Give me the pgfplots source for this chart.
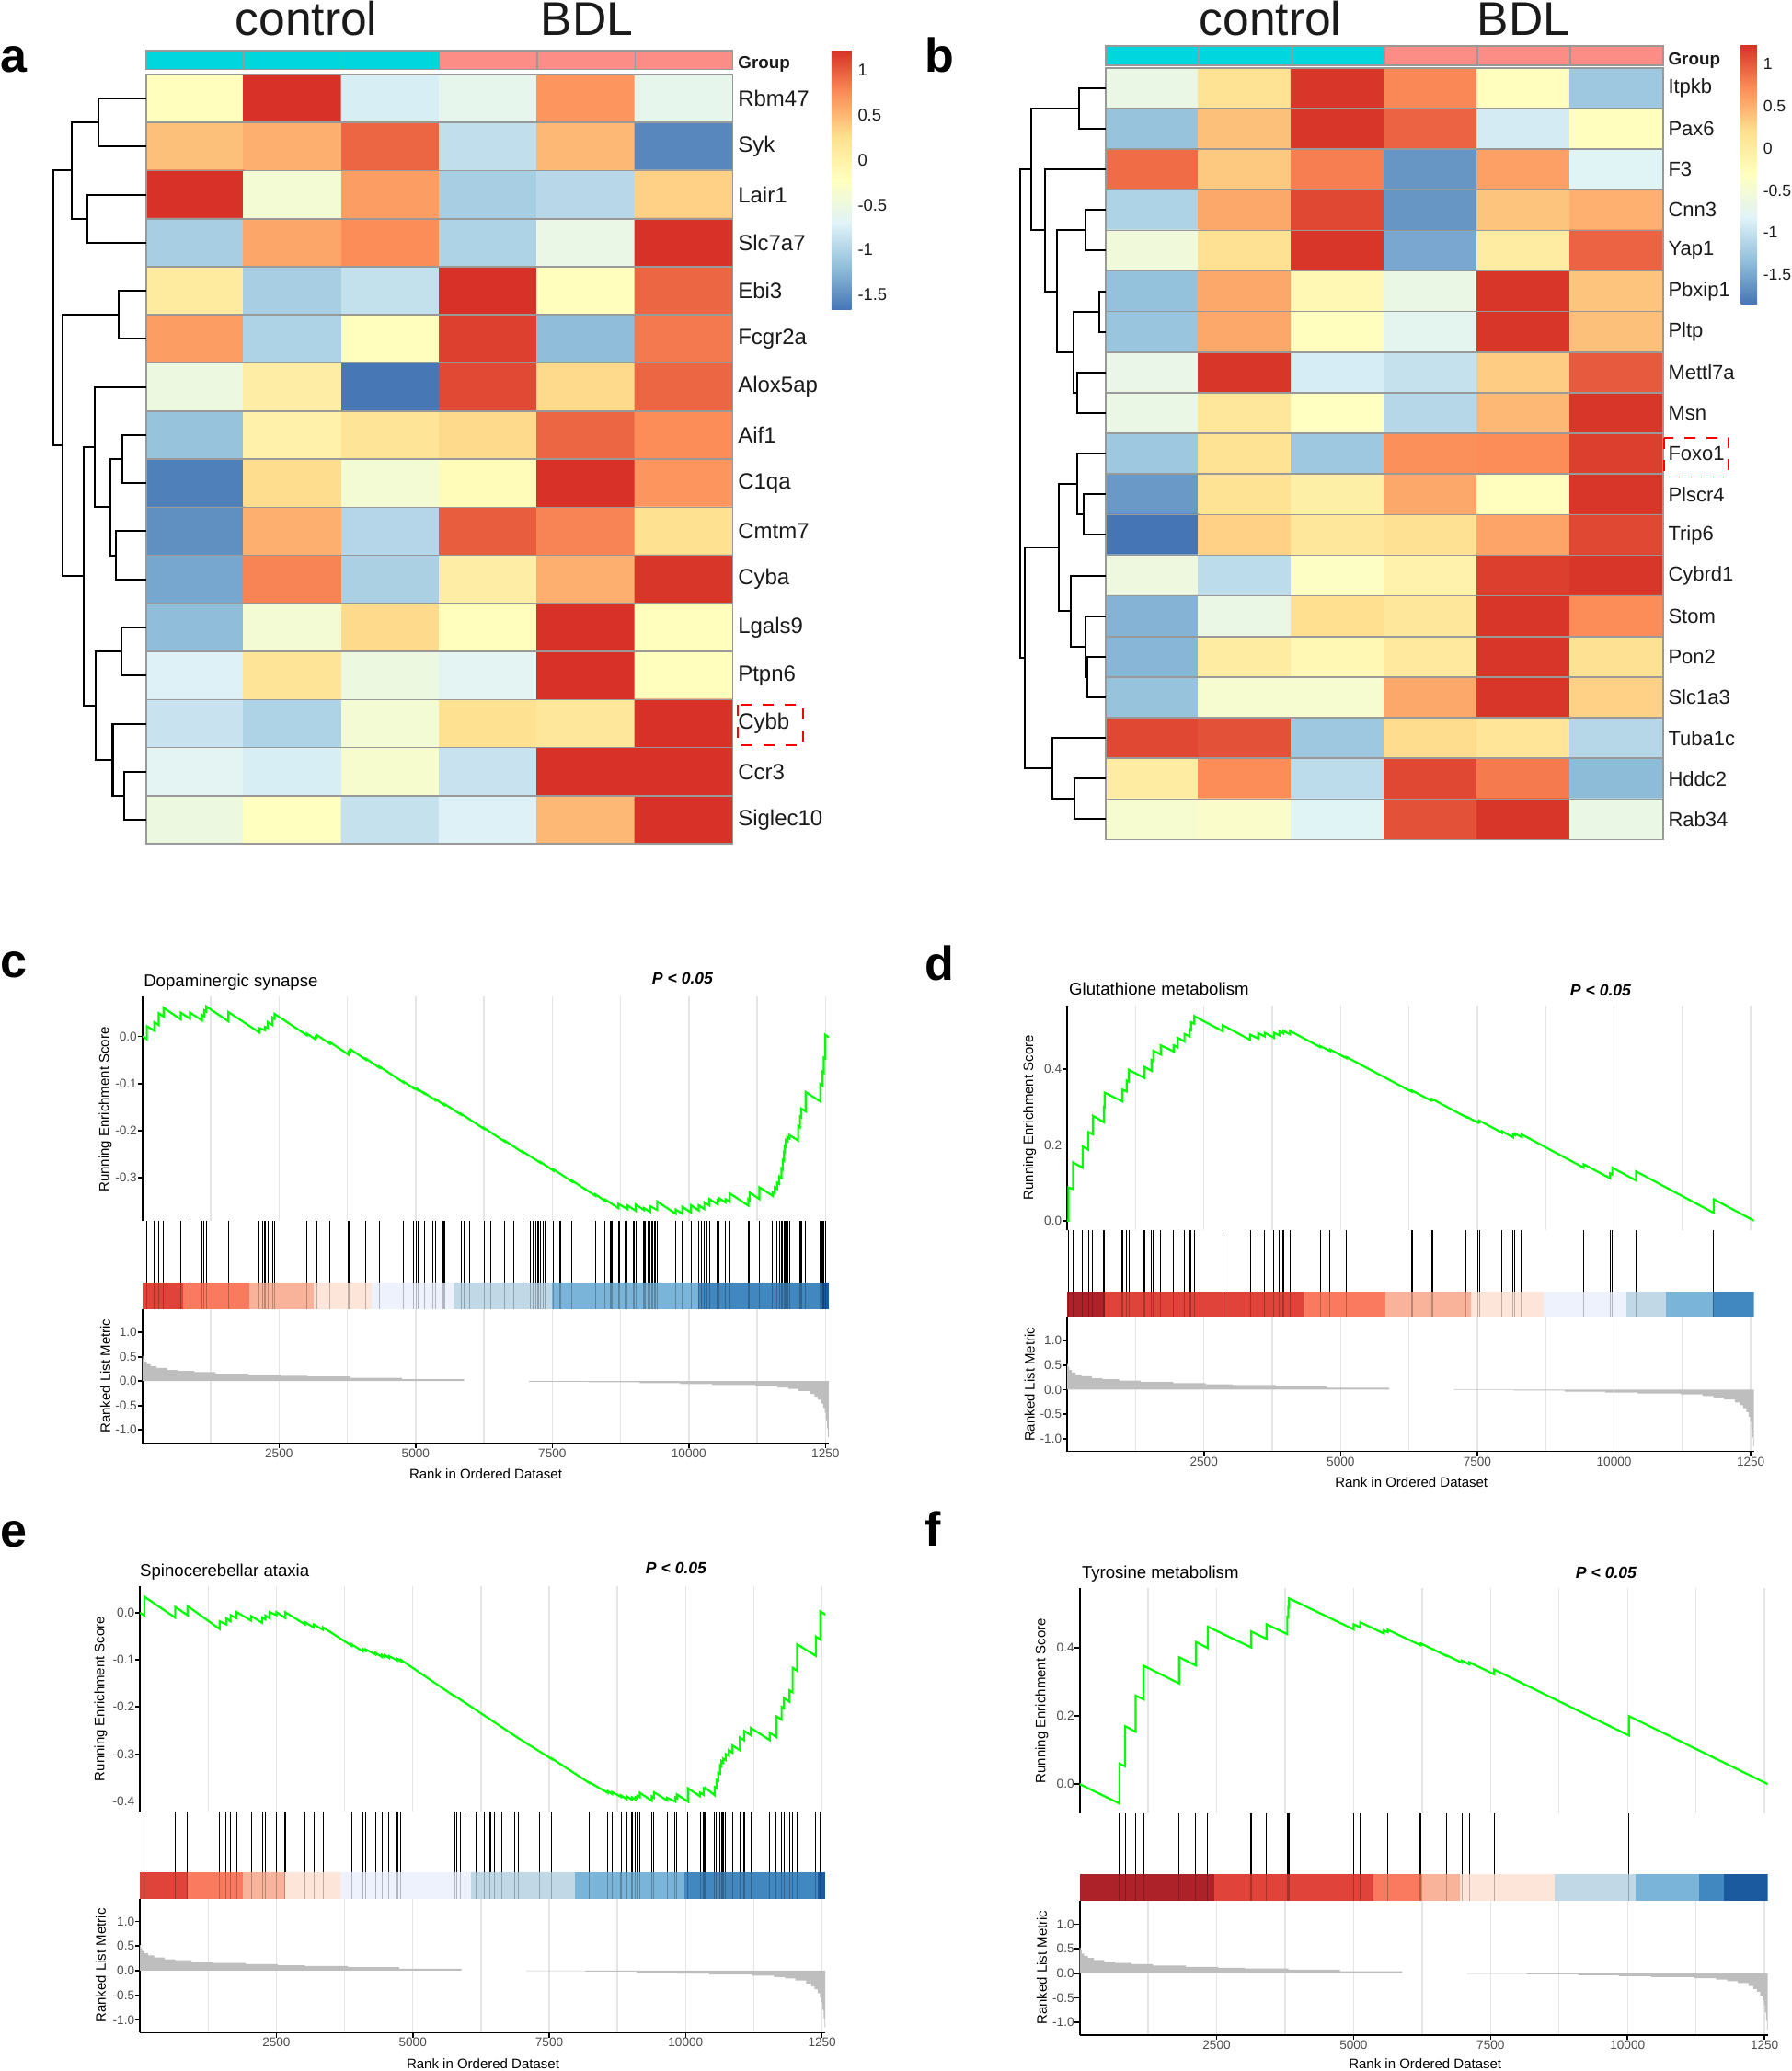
\documentclass[border=0pt]{standalone}
\usepackage{fontspec}
\setmainfont{Liberation Sans}
\usepackage{pgfplots}
\usepackage{pgfplotstable}
\pgfplotsset{compat=1.18}

\definecolor{gridcol}{RGB}{229,229,229}
\definecolor{tickcol}{RGB}{77,77,77}
\definecolor{esgreen}{RGB}{0,255,0}
\definecolor{rankgray}{RGB}{190,190,190}
\definecolor{hmborder}{RGB}{153,153,153}
\definecolor{ctrl}{RGB}{0,214,222}
\definecolor{bdl}{RGB}{252,141,134}
\definecolor{textcol}{RGB}{26,26,26}
\definecolor{cbA}{RGB}{173,34,41}
\definecolor{cbB}{RGB}{224,67,58}
\definecolor{cbC}{RGB}{249,122,94}
\definecolor{cbD}{RGB}{249,179,154}
\definecolor{cbE}{RGB}{253,229,218}
\definecolor{cbF}{RGB}{238,242,253}
\definecolor{cbG}{RGB}{193,217,231}
\definecolor{cbH}{RGB}{122,180,217}
\definecolor{cbI}{RGB}{66,136,192}
\definecolor{cbJ}{RGB}{28,90,160}

\newcommand{\fTick}{\fontsize{3.4}{4}\selectfont}
\newcommand{\fLab}{\fontsize{3.75}{4.5}\selectfont}
\newcommand{\fTitle}{\fontsize{4.65}{5.5}\selectfont}
\newcommand{\fP}{\fontsize{4.4}{5}\selectfont\bfseries\itshape}
\newcommand{\fBig}{\fontsize{12.9}{14}\selectfont}
\newcommand{\fLetter}{\fontsize{13}{14}\selectfont\bfseries}
\newcommand{\fGeneA}{\fontsize{6}{7}\selectfont}
\newcommand{\fGeneB}{\fontsize{5.5}{6.5}\selectfont}
\newcommand{\fCBA}{\fontsize{4.6}{5}\selectfont}
\newcommand{\fCBB}{\fontsize{4.4}{5}\selectfont}
\newcommand{\fGroup}{\fontsize{4.7}{5}\selectfont\bfseries}

\pgfplotsset{
  every axis/.append style={scale only axis, enlargelimits=false},
  colormap={rdylbu}{rgb255=(69,117,180) rgb255=(145,191,219) rgb255=(224,243,248) rgb255=(255,255,191) rgb255=(254,224,144) rgb255=(252,141,89) rgb255=(215,48,39)},
  hm/.style={anchor=north west, xmin=0, xmax=6, y dir=reverse, axis on top,
    axis line style={hmborder, line width=0.4pt}, xtick=\empty,
    minor xtick={1,2,3,4,5}, grid=minor, minor grid style={hmborder, line width=0.4pt},
    major tick length=0pt, minor tick length=0pt, yticklabel pos=right,
    yticklabel style={anchor=west, inner sep=0pt, xshift=1.2pt, text=textcol},
    colormap name=rdylbu},
  gb/.style={anchor=north west, xmin=0, xmax=6, ymin=0, ymax=1, hide axis, clip=false},
  gcell/.style={draw=hmborder, line width=0.4pt},
  dendax/.style={anchor=north west, xmin=0, x dir=reverse, y dir=reverse, hide axis, clip=false},
  dend/.style={black, line width=0.5pt, no marks},
  esline/.style={esgreen, line width=0.55pt, no marks},
  hitline/.style={ycomb, black, line width=0.27pt, no marks},
  rankfill/.style={fill=rankgray, draw=none, const plot, no marks},
  gbase/.style={anchor=north west, xmin=0, xmax=12560, scaled x ticks=false, scaled y ticks=false},
  gES/.style={gbase, axis lines*=left, separate axis lines,
    x axis line style={draw=none}, y axis line style={black, line width=0.45pt},
    xtick={1250,2500,3750,5000,6250,7500,8750,10000,11250,12500}, xticklabels={},
    xmajorgrids, major grid style={gridcol, line width=0.35pt},
    tick align=outside, major tick length=1.3pt, xtick style={draw=none},
    ytick style={black, line width=0.4pt},
    yticklabel style={font=\fTick, text=tickcol, inner sep=0pt, anchor=east}},
  gHit/.style={gbase, ymin=0, ymax=1, hide axis},
  gRank/.style={gbase, axis lines*=left, separate axis lines,
    x axis line style={black, line width=0.45pt}, y axis line style={black, line width=0.45pt},
    xtick={2500,5000,7500,10000,12500}, xticklabels={2500,5000,7500,10000,1250},
    minor xtick={1250,3750,6250,8750,11250}, xmajorgrids, xminorgrids,
    major grid style={gridcol, line width=0.35pt}, minor grid style={gridcol, line width=0.35pt},
    tick align=outside, major tick length=1.3pt, minor tick length=0pt,
    tick style={black, line width=0.4pt},
    ytick={-1,-0.5,0,0.5,1}, yticklabels={-1.0,-0.5,0.0,0.5,1.0},
    yticklabel style={font=\fTick, text=tickcol, inner sep=0pt, anchor=east},
    xticklabel style={font=\fTick, text=tickcol, inner sep=0pt, anchor=north}},
}

% ---------- GSEA data ----------
\pgfplotstableread{
x y
1 0.52
15 0.46
40 0.40
80 0.35
150 0.31
260 0.27
450 0.23
650 0.21
950 0.185
1340 0.155
1940 0.13
2530 0.11
3020 0.095
3810 0.07
4750 0.04
5890 0.04
}\rankpos
\pgfplotstableread{
x y
7075 -0.01
8160 -0.02
9100 -0.04
9840 -0.06
10430 -0.08
11220 -0.10
11620 -0.13
11820 -0.16
12010 -0.20
12210 -0.26
12300 -0.32
12360 -0.38
12420 -0.46
12460 -0.55
12490 -0.65
12510 -0.80
12530 -0.97
12545 -1.15
12560 -1.15
}\rankneg

\pgfplotstableread[row sep=\\]{x y\\81 1\\218 1\\298 1\\387 1\\702 1\\871 1\\1089 1\\1129 1\\1169 1\\1573 1\\2137 1\\2202 1\\2242 1\\2298 1\\2379 1\\2419 1\\3008 1\\3170 1\\3186 1\\3428 1\\3774 1\\3790 1\\3807 1\\4089 1\\4339 1\\4782 1\\4960 1\\5016 1\\5040 1\\5162 1\\5307 1\\5363 1\\5508 1\\5524 1\\5540 1\\5831 1\\5887 1\\5984 1\\6250 1\\6371 1\\6629 1\\6799 1\\6960 1\\7097 1\\7154 1\\7202 1\\7242 1\\7282 1\\7339 1\\7363 1\\7524 1\\7637 1\\7661 1\\7863 1\\8290 1\\8468 1\\8565 1\\8589 1\\8710 1\\8734 1\\8831 1\\8871 1\\8992 1\\9008 1\\9032 1\\9178 1\\9210 1\\9258 1\\9274 1\\9291 1\\9315 1\\9339 1\\9371 1\\9395 1\\9420 1\\9758 1\\9879 1\\10040 1\\10178 1\\10226 1\\10283 1\\10323 1\\10379 1\\10524 1\\10549 1\\10670 1\\10750 1\\11089 1\\11113 1\\11291 1\\11533 1\\11573 1\\11613 1\\11654 1\\11694 1\\11718 1\\11742 1\\11758 1\\11775 1\\11799 1\\11815 1\\11839 1\\12000 1\\12033 1\\12057 1\\12138 1\\12404 1\\12444 1\\12468 1\\12500 1\\}\hitc

\pgfplotstableread[row sep=\\]{x y\\25 1\\105 1\\282 1\\387 1\\468 1\\669 1\\685 1\\1008 1\\1089 1\\1129 1\\1411 1\\1540 1\\1573 1\\1710 1\\1944 1\\2016 1\\2145 1\\2242 1\\2266 1\\2323 1\\2847 1\\3347 1\\3492 1\\3613 1\\3782 1\\3879 1\\3952 1\\4073 1\\4629 1\\4807 1\\5105 1\\6291 1\\6315 1\\6638 1\\6662 1\\6678 1\\7298 1\\7508 1\\7540 1\\7952 1\\8154 1\\8186 1\\8307 1\\9444 1\\9928 1\\9968 1\\10404 1\\11823 1\\}\hitd

\pgfplotstableread[row sep=\\]{x y\\81 1\\645 1\\871 1\\1460 1\\1581 1\\1661 1\\1774 1\\2040 1\\2242 1\\2298 1\\2379 1\\2500 1\\2661 1\\3024 1\\3186 1\\3355 1\\3879 1\\4081 1\\4137 1\\4315 1\\4436 1\\4484 1\\4565 1\\4718 1\\4782 1\\5766 1\\5807 1\\5871 1\\5952 1\\6154 1\\6315 1\\6420 1\\6500 1\\6637 1\\6863 1\\6936 1\\7323 1\\7548 1\\8234 1\\8573 1\\8654 1\\8815 1\\8920 1\\9016 1\\9081 1\\9113 1\\9161 1\\9379 1\\9419 1\\9662 1\\9807 1\\9839 1\\10040 1\\10266 1\\10331 1\\10363 1\\10533 1\\10565 1\\10597 1\\10630 1\\10654 1\\10686 1\\10734 1\\10790 1\\10855 1\\10992 1\\11073 1\\11194 1\\11541 1\\11662 1\\11758 1\\11799 1\\11904 1\\11960 1\\12041 1\\12387 1\\12468 1\\}\hite

\pgfplotstableread[row sep=\\]{x y\\726 1\\831 1\\1024 1\\1169 1\\1815 1\\2121 1\\2339 1\\3129 1\\3411 1\\3790 1\\3807 1\\3823 1\\5000 1\\5121 1\\5548 1\\5621 1\\6210 1\\6234 1\\6694 1\\6976 1\\7113 1\\7565 1\\10024 1\\}\hitf

\pgfplotstableread[row sep=\\]{x y\\1 0\\81 -0.006\\81 0.0216\\218 0.0118\\218 0.030\\298 0.024\\298 0.049\\387 0.042\\387 0.0608\\702 0.036\\702 0.0503\\871 0.0373\\871 0.0503\\1089 0.034\\1089 0.0458\\1129 0.0428\\1129 0.0556\\1169 0.0526\\1169 0.0634\\1573 0.032\\1573 0.0516\\2137 0.0085\\2137 0.0176\\2242 0.0131\\2242 0.020\\2298 0.0176\\2298 0.030\\2379 0.024\\2379 0.040\\2419 0.037\\2419 0.0477\\3008 0.0025\\3008 0.006\\3170 -0.0065\\3170 -0.001\\3186 -0.002\\3186 0.0033\\3428 -0.0154\\3428 -0.012\\3774 -0.0389\\3774 -0.033\\3790 -0.034\\3790 -0.030\\3807 -0.031\\3807 -0.0275\\4089 -0.0495\\4089 -0.047\\4339 -0.0665\\4339 -0.064\\4782 -0.098\\4782 -0.096\\4960 -0.110\\4960 -0.108\\5040 -0.114\\5040 -0.112\\5162 -0.1215\\5162 -0.120\\5363 -0.1355\\5363 -0.133\\5524 -0.1455\\5524 -0.143\\5831 -0.166\\5831 -0.164\\6250 -0.196\\6250 -0.194\\6629 -0.223\\6629 -0.221\\6960 -0.246\\6960 -0.244\\7282 -0.268\\7282 -0.266\\7524 -0.285\\7524 -0.282\\7863 -0.308\\7863 -0.306\\8290 -0.338\\8290 -0.335\\8468 -0.349\\8468 -0.346\\8710 -0.364\\8710 -0.355\\8871 -0.366\\8871 -0.358\\9032 -0.370\\9032 -0.357\\9178 -0.368\\9178 -0.364\\9291 -0.372\\9291 -0.360\\9420 -0.368\\9420 -0.350\\9758 -0.376\\9758 -0.367\\9879 -0.376\\9879 -0.361\\10040 -0.3735\\10040 -0.358\\10178 -0.369\\10178 -0.358\\10283 -0.366\\10283 -0.352\\10379 -0.359\\10379 -0.345\\10524 -0.356\\10524 -0.347\\10549 -0.349\\10549 -0.343\\10670 -0.352\\10670 -0.345\\10750 -0.351\\10750 -0.333\\11089 -0.359\\11089 -0.345\\11113 -0.347\\11113 -0.331\\11291 -0.345\\11291 -0.320\\11533 -0.338\\11533 -0.330\\11573 -0.333\\11573 -0.320\\11613 -0.323\\11613 -0.310\\11654 -0.313\\11654 -0.297\\11694 -0.300\\11694 -0.280\\11718 -0.282\\11718 -0.262\\11742 -0.264\\11742 -0.245\\11758 -0.246\\11758 -0.232\\11775 -0.233\\11775 -0.220\\11799 -0.222\\11799 -0.213\\11839 -0.216\\11839 -0.209\\12000 -0.221\\12000 -0.190\\12033 -0.193\\12033 -0.170\\12057 -0.172\\12057 -0.153\\12138 -0.159\\12138 -0.118\\12404 -0.138\\12404 -0.101\\12444 -0.104\\12444 -0.075\\12468 -0.077\\12468 -0.045\\12500 -0.047\\12500 0.003\\12560 -0.002\\}\esc

\pgfplotstableread[row sep=\\]{x y\\1 0\\25 0\\25 0.0876\\105 0.0836\\105 0.154\\282 0.140\\282 0.196\\387 0.187\\387 0.234\\468 0.228\\468 0.277\\669 0.260\\669 0.300\\685 0.299\\685 0.338\\1008 0.315\\1008 0.346\\1089 0.341\\1089 0.370\\1129 0.367\\1129 0.398\\1411 0.377\\1411 0.406\\1540 0.396\\1540 0.424\\1573 0.421\\1573 0.449\\1710 0.439\\1710 0.463\\1944 0.447\\1944 0.463\\2016 0.458\\2016 0.483\\2145 0.473\\2145 0.493\\2242 0.486\\2242 0.505\\2266 0.503\\2266 0.524\\2323 0.520\\2323 0.540\\2847 0.500\\2847 0.516\\3347 0.477\\3347 0.491\\3492 0.481\\3492 0.495\\3613 0.486\\3613 0.496\\3782 0.483\\3782 0.496\\3879 0.489\\3879 0.500\\3952 0.494\\3952 0.501\\4073 0.492\\4073 0.501\\4629 0.458\\4629 0.461\\4807 0.448\\4807 0.452\\5105 0.429\\5105 0.432\\6291 0.341\\6291 0.343\\6315 0.341\\6315 0.343\\6638 0.318\\6638 0.320\\6662 0.318\\6662 0.320\\6678 0.319\\6678 0.321\\7298 0.273\\7298 0.275\\7508 0.259\\7508 0.262\\7540 0.260\\7540 0.264\\7952 0.232\\7952 0.236\\8154 0.220\\8154 0.228\\8186 0.226\\8186 0.230\\8307 0.221\\8307 0.228\\9444 0.140\\9444 0.149\\9928 0.112\\9928 0.125\\9968 0.122\\9968 0.140\\10404 0.106\\10404 0.130\\11823 0.0207\\11823 0.0568\\12560 0.0\\}\esd

\pgfplotstableread[row sep=\\]{x y\\1 0\\81 -0.0065\\81 0.034\\645 -0.0104\\645 0.0124\\871 -0.0052\\871 0.0143\\1460 -0.0345\\1460 -0.0182\\1581 -0.0247\\1581 -0.0117\\1661 -0.0182\\1661 -0.0052\\1774 -0.012\\1774 0.0013\\2040 -0.0169\\2040 -0.0072\\2242 -0.0215\\2242 -0.0104\\2298 -0.014\\2298 -0.006\\2379 -0.012\\2379 0.0013\\2500 -0.0052\\2500 0.0013\\2661 -0.011\\2661 0.0013\\3024 -0.0247\\3024 -0.020\\3186 -0.0312\\3186 -0.025\\3355 -0.0364\\3355 -0.031\\3879 -0.0702\\3879 -0.067\\4081 -0.082\\4081 -0.077\\4137 -0.081\\4137 -0.078\\4315 -0.0885\\4315 -0.085\\4436 -0.094\\4436 -0.090\\4484 -0.094\\4484 -0.090\\4565 -0.096\\4565 -0.092\\4718 -0.1015\\4718 -0.098\\4782 -0.103\\4782 -0.100\\5766 -0.1776\\5766 -0.1765\\5952 -0.1906\\6920 -0.2654\\7548 -0.3109\\7548 -0.3095\\8234 -0.3615\\8234 -0.360\\8573 -0.3824\\8573 -0.379\\8654 -0.385\\8654 -0.381\\8815 -0.391\\8815 -0.388\\8920 -0.396\\8920 -0.390\\9016 -0.397\\9016 -0.392\\9081 -0.397\\9081 -0.392\\9113 -0.394\\9113 -0.389\\9161 -0.392\\9161 -0.3824\\9379 -0.3994\\9379 -0.390\\9419 -0.393\\9419 -0.3811\\9662 -0.3987\\9662 -0.393\\9807 -0.401\\9807 -0.392\\9839 -0.394\\9839 -0.3857\\10040 -0.401\\10040 -0.3727\\10266 -0.390\\10266 -0.382\\10331 -0.387\\10331 -0.3727\\10363 -0.375\\10363 -0.372\\10533 -0.3876\\10533 -0.370\\10565 -0.372\\10565 -0.355\\10597 -0.357\\10597 -0.340\\10630 -0.342\\10630 -0.3239\\10654 -0.326\\10654 -0.315\\10686 -0.318\\10686 -0.3096\\10734 -0.313\\10734 -0.300\\10790 -0.304\\10790 -0.292\\10855 -0.297\\10855 -0.2816\\10992 -0.292\\10992 -0.265\\11073 -0.271\\11073 -0.2511\\11194 -0.260\\11194 -0.2446\\11541 -0.2706\\11541 -0.255\\11662 -0.264\\11662 -0.220\\11758 -0.227\\11758 -0.200\\11799 -0.203\\11799 -0.181\\11904 -0.189\\11904 -0.165\\11960 -0.169\\11960 -0.117\\12041 -0.123\\12041 -0.067\\12387 -0.0917\\12387 -0.0507\\12468 -0.057\\12468 0.003\\12560 -0.004\\}\ese

\pgfplotstableread[row sep=\\]{x y\\1 0\\726 -0.057\\726 0.0605\\831 0.052\\831 0.170\\1024 0.154\\1024 0.260\\1169 0.249\\1169 0.348\\1815 0.296\\1815 0.373\\2121 0.349\\2121 0.418\\2339 0.400\\2339 0.463\\3129 0.402\\3129 0.449\\3411 0.427\\3411 0.470\\3790 0.441\\3790 0.492\\3807 0.491\\3807 0.520\\3823 0.519\\3823 0.546\\5000 0.455\\5000 0.470\\5121 0.461\\5121 0.476\\5548 0.443\\5548 0.452\\5621 0.447\\5621 0.454\\6210 0.409\\6210 0.412\\6234 0.410\\6234 0.413\\6694 0.377\\6694 0.379\\6976 0.357\\6976 0.363\\7113 0.352\\7113 0.358\\7565 0.323\\7565 0.337\\10024 0.143\\10024 0.200\\12560 0.0\\}\esf

\begin{document}
\begin{tikzpicture}
\useasboundingbox (0pt,0pt) rectangle (487pt,-562.75pt);

% ================= panel a =================
\begin{axis}[hm, at={(39.675pt,-20.225pt)}, width=159.5pt, height=209.075pt, ymin=0, ymax=16,
  minor ytick={1,2,3,4,5,6,7,8,9,10,11,12,13,14,15},
  ytick={0.5,1.5,2.5,3.5,4.5,5.5,6.5,7.5,8.5,9.5,10.5,11.5,12.5,13.5,14.5,15.5},
  yticklabels={Rbm47,Syk,Lair1,Slc7a7,Ebi3,Fcgr2a,Alox5ap,Aif1,C1qa,Cmtm7,Cyba,Lgals9,Ptpn6,Cybb,Ccr3,Siglec10},
  yticklabel style={font=\fGeneA},
  point meta min=-1.67, point meta max=1.23,
  colorbar, colorbar style={at={(parent axis.north east)}, anchor=north west,
    xshift=18.29pt, yshift=6.73pt, width=5.38pt, height=70.75pt, y dir=normal,
    ytick={-1.5,-1,-0.5,0,0.5,1}, yticklabels={-1.5,-1,-0.5,0,0.5,1},
    yticklabel style={font=\fCBA, text=textcol, inner sep=0pt, anchor=west, xshift=1.55pt},
    major tick length=0pt, axis line style={draw=none}}]
\addplot [matrix plot*, mesh/cols=6, point meta=explicit] table [row sep=\\, meta=c] {x y c\\
0.5 0.5 -0.2\\1.5 0.5 1.22\\2.5 0.5 -0.75\\3.5 0.5 -0.6\\4.5 0.5 0.7\\5.5 0.5 -0.6\\
0.5 1.5 0.45\\1.5 1.5 0.55\\2.5 1.5 0.95\\3.5 1.5 -0.9\\4.5 1.5 0.5\\5.5 1.5 -1.55\\
0.5 2.5 1.22\\1.5 2.5 -0.4\\2.5 2.5 0.65\\3.5 2.5 -1.05\\4.5 2.5 -0.95\\5.5 2.5 0.35\\
0.5 3.5 -1.05\\1.5 3.5 0.6\\2.5 3.5 0.75\\3.5 3.5 -1.0\\4.5 3.5 -0.55\\5.5 3.5 1.22\\
0.5 4.5 0.1\\1.5 4.5 -1.05\\2.5 4.5 -0.88\\3.5 4.5 1.22\\4.5 4.5 -0.2\\5.5 4.5 0.95\\
0.5 5.5 0.65\\1.5 5.5 -1.0\\2.5 5.5 -0.2\\3.5 5.5 1.15\\4.5 5.5 -1.2\\5.5 5.5 0.85\\
0.5 6.5 -0.5\\1.5 6.5 0.05\\2.5 6.5 -1.66\\3.5 6.5 1.1\\4.5 6.5 0.3\\5.5 6.5 0.95\\
0.5 7.5 -1.15\\1.5 7.5 0.0\\2.5 7.5 0.2\\3.5 7.5 0.3\\4.5 7.5 0.95\\5.5 7.5 0.75\\
0.5 8.5 -1.6\\1.5 8.5 0.28\\2.5 8.5 -0.4\\3.5 8.5 -0.15\\4.5 8.5 1.22\\5.5 8.5 0.7\\
0.5 9.5 -1.5\\1.5 9.5 0.55\\2.5 9.5 -0.97\\3.5 9.5 1.0\\4.5 9.5 0.8\\5.5 9.5 0.25\\
0.5 10.5 -1.35\\1.5 10.5 0.8\\2.5 10.5 -1.03\\3.5 10.5 0.05\\4.5 10.5 0.55\\5.5 10.5 1.2\\
0.5 11.5 -1.2\\1.5 11.5 -0.4\\2.5 11.5 0.3\\3.5 11.5 -0.2\\4.5 11.5 1.22\\5.5 11.5 -0.2\\
0.5 12.5 -0.72\\1.5 12.5 0.2\\2.5 12.5 -0.5\\3.5 12.5 -0.65\\4.5 12.5 1.22\\5.5 12.5 -0.2\\
0.5 13.5 -0.85\\1.5 13.5 -1.0\\2.5 13.5 -0.4\\3.5 13.5 0.25\\4.5 13.5 0.15\\5.5 13.5 1.22\\
0.5 14.5 -0.65\\1.5 14.5 -0.75\\2.5 14.5 -0.35\\3.5 14.5 -0.85\\4.5 14.5 1.22\\5.5 14.5 1.22\\
0.5 15.5 -0.5\\1.5 15.5 -0.22\\2.5 15.5 -0.87\\3.5 15.5 -0.72\\4.5 15.5 0.5\\5.5 15.5 1.22\\
};
\end{axis}

\begin{axis}[gb, at={(39.675pt,-13.725pt)}, width=159.5pt, height=5.175pt]
\addplot [fill=ctrl, gcell] coordinates {(0,1) (1,1)} \closedcycle;
\addplot [fill=ctrl, gcell] coordinates {(1,1) (2,1)} \closedcycle;
\addplot [fill=ctrl, gcell] coordinates {(2,1) (3,1)} \closedcycle;
\addplot [fill=bdl, gcell] coordinates {(3,1) (4,1)} \closedcycle;
\addplot [fill=bdl, gcell] coordinates {(4,1) (5,1)} \closedcycle;
\addplot [fill=bdl, gcell] coordinates {(5,1) (6,1)} \closedcycle;
\end{axis}

\begin{axis}[dendax, at={(10pt,-20.225pt)}, width=29.675pt, height=209.075pt, xmax=118.7, ymin=0, ymax=16]
\addplot [dend] coordinates {(0,0.5)(51.9,0.5)(51.9,1.5)(0,1.5)};
\addplot [dend] coordinates {(0,2.5)(63.6,2.5)(63.6,3.5)(0,3.5)};
\addplot [dend] coordinates {(51.9,1.0)(80.3,1.0)(80.3,3.0)(63.6,3.0)};
\addplot [dend] coordinates {(0,4.5)(30.2,4.5)(30.2,5.5)(0,5.5)};
\addplot [dend] coordinates {(0,7.5)(25.8,7.5)(25.8,8.5)(0,8.5)};
\addplot [dend] coordinates {(0,9.5)(32.9,9.5)(32.9,10.5)(0,10.5)};
\addplot [dend] coordinates {(25.8,8.0)(38.5,8.0)(38.5,10.0)(32.9,10.0)};
\addplot [dend] coordinates {(0,6.5)(55.2,6.5)(55.2,9.0)(38.5,9.0)};
\addplot [dend] coordinates {(0,11.5)(26.8,11.5)(26.8,12.5)(0,12.5)};
\addplot [dend] coordinates {(0,14.5)(24.2,14.5)(24.2,15.5)(0,15.5)};
\addplot [dend] coordinates {(0,13.5)(36.2,13.5)(36.2,15.0)(24.2,15.0)};
\addplot [dend] coordinates {(26.8,12.0)(54.6,12.0)(54.6,14.25)(36.2,14.25)};
\addplot [dend] coordinates {(55.2,7.75)(67.6,7.75)(67.6,13.125)(54.6,13.125)};
\addplot [dend] coordinates {(30.2,5.0)(91.0,5.0)(91.0,10.4375)(67.6,10.4375)};
\addplot [dend] coordinates {(80.3,2.0)(101.0,2.0)(101.0,7.71875)(91.0,7.71875)};
\end{axis}

% ================= panel b =================
\begin{axis}[hm, at={(300.425pt,-18.45pt)}, width=151.55pt, height=209.675pt, ymin=0, ymax=19,
  minor ytick={1,2,3,4,5,6,7,8,9,10,11,12,13,14,15,16,17,18},
  ytick={0.5,1.5,2.5,3.5,4.5,5.5,6.5,7.5,8.5,9.5,10.5,11.5,12.5,13.5,14.5,15.5,16.5,17.5,18.5},
  yticklabels={Itpkb,Pax6,F3,Cnn3,Yap1,Pbxip1,Pltp,Mettl7a,Msn,Foxo1,Plscr4,Trip6,Cybrd1,Stom,Pon2,Slc1a3,Tuba1c,Hddc2,Rab34},
  yticklabel style={font=\fGeneB},
  point meta min=-1.85, point meta max=1.23,
  colorbar, colorbar style={at={(parent axis.north east)}, anchor=north west,
    xshift=12.66pt, yshift=6.35pt, width=4.33pt, height=70.58pt, y dir=normal,
    ytick={-1.5,-1,-0.5,0,0.5,1}, yticklabels={-1.5,-1,-0.5,0,0.5,1},
    yticklabel style={font=\fCBB, text=textcol, inner sep=0pt, anchor=west, xshift=1.5pt},
    major tick length=0pt, axis line style={draw=none}}]
\addplot [matrix plot*, mesh/cols=6, point meta=explicit] table [row sep=\\, meta=c] {x y c\\
0.5 0.5 -0.65\\1.5 0.5 0.15\\2.5 0.5 1.2\\3.5 0.5 0.75\\4.5 0.5 -0.3\\5.5 0.5 -1.25\\
0.5 1.5 -1.3\\1.5 1.5 0.4\\2.5 1.5 1.2\\3.5 1.5 0.95\\4.5 1.5 -0.9\\5.5 1.5 -0.3\\
0.5 2.5 0.9\\1.5 2.5 0.35\\2.5 2.5 0.8\\3.5 2.5 -1.62\\4.5 2.5 0.6\\5.5 2.5 -0.8\\
0.5 3.5 -1.15\\1.5 3.5 0.55\\2.5 3.5 1.1\\3.5 3.5 -1.62\\4.5 3.5 0.38\\5.5 3.5 0.5\\
0.5 4.5 -0.55\\1.5 4.5 0.18\\2.5 4.5 1.2\\3.5 4.5 -1.5\\4.5 4.5 0.0\\5.5 4.5 0.95\\
0.5 5.5 -1.32\\1.5 5.5 0.55\\2.5 5.5 -0.2\\3.5 5.5 -0.65\\4.5 5.5 1.2\\5.5 5.5 0.38\\
0.5 6.5 -1.28\\1.5 6.5 0.55\\2.5 6.5 -0.3\\3.5 6.5 -0.75\\4.5 6.5 1.2\\5.5 6.5 0.4\\
0.5 7.5 -0.68\\1.5 7.5 1.2\\2.5 7.5 -0.88\\3.5 7.5 -1.0\\4.5 7.5 0.33\\5.5 7.5 1.0\\
0.5 8.5 -0.65\\1.5 8.5 0.1\\2.5 8.5 -0.33\\3.5 8.5 -1.1\\4.5 8.5 0.45\\5.5 8.5 1.2\\
0.5 9.5 -1.25\\1.5 9.5 0.15\\2.5 9.5 -1.25\\3.5 9.5 0.7\\4.5 9.5 0.72\\5.5 9.5 1.15\\
0.5 10.5 -1.6\\1.5 10.5 0.15\\2.5 10.5 -0.05\\3.5 10.5 0.55\\4.5 10.5 -0.3\\5.5 10.5 1.2\\
0.5 11.5 -1.85\\1.5 11.5 0.3\\2.5 11.5 0.1\\3.5 11.5 0.18\\4.5 11.5 0.57\\5.5 11.5 1.1\\
0.5 12.5 -0.6\\1.5 12.5 -1.05\\2.5 12.5 -0.35\\3.5 12.5 -0.1\\4.5 12.5 1.15\\5.5 12.5 1.2\\
0.5 13.5 -1.42\\1.5 13.5 -0.65\\2.5 13.5 0.2\\3.5 13.5 0.08\\4.5 13.5 1.2\\5.5 13.5 0.72\\
0.5 14.5 -1.4\\1.5 14.5 0.0\\2.5 14.5 -0.2\\3.5 14.5 0.05\\4.5 14.5 1.2\\5.5 14.5 0.18\\
0.5 15.5 -1.3\\1.5 15.5 -0.45\\2.5 15.5 -0.45\\3.5 15.5 0.55\\4.5 15.5 1.2\\5.5 15.5 0.3\\
0.5 16.5 1.1\\1.5 16.5 1.05\\2.5 16.5 -1.25\\3.5 16.5 0.22\\4.5 16.5 0.12\\5.5 16.5 -1.1\\
0.5 17.5 0.0\\1.5 17.5 0.72\\2.5 17.5 -1.05\\3.5 17.5 1.1\\4.5 17.5 0.82\\5.5 17.5 -1.36\\
0.5 18.5 -0.45\\1.5 18.5 -0.4\\2.5 18.5 -0.8\\3.5 18.5 1.05\\4.5 18.5 1.2\\5.5 18.5 -0.65\\
};
\end{axis}

\begin{axis}[gb, at={(300.425pt,-12.55pt)}, width=151.55pt, height=5.175pt]
\addplot [fill=ctrl, gcell] coordinates {(0,1) (1,1)} \closedcycle;
\addplot [fill=ctrl, gcell] coordinates {(1,1) (2,1)} \closedcycle;
\addplot [fill=ctrl, gcell] coordinates {(2,1) (3,1)} \closedcycle;
\addplot [fill=bdl, gcell] coordinates {(3,1) (4,1)} \closedcycle;
\addplot [fill=bdl, gcell] coordinates {(4,1) (5,1)} \closedcycle;
\addplot [fill=bdl, gcell] coordinates {(5,1) (6,1)} \closedcycle;
\end{axis}

\begin{axis}[dendax, at={(275pt,-18.45pt)}, width=25.425pt, height=209.675pt, xmax=101.7, ymin=0, ymax=19]
\addplot [dend] coordinates {(0,0.5)(29.0,0.5)(29.0,1.5)(0,1.5)};
\addplot [dend] coordinates {(0,3.5)(21.4,3.5)(21.4,4.5)(0,4.5)};
\addplot [dend] coordinates {(0,5.5)(6.7,5.5)(6.7,6.5)(0,6.5)};
\addplot [dend] coordinates {(0,7.5)(30.6,7.5)(30.6,8.5)(0,8.5)};
\addplot [dend] coordinates {(6.7,6.0)(35.2,6.0)(35.2,8.0)(30.6,8.0)};
\addplot [dend] coordinates {(21.4,4.0)(53.2,4.0)(53.2,7.0)(35.2,7.0)};
\addplot [dend] coordinates {(0,2.5)(65.7,2.5)(65.7,5.5)(53.2,5.5)};
\addplot [dend] coordinates {(29.0,1.0)(80.5,1.0)(80.5,4.0)(65.7,4.0)};
\addplot [dend] coordinates {(0,10.5)(24.0,10.5)(24.0,11.5)(0,11.5)};
\addplot [dend] coordinates {(0,9.5)(30.6,9.5)(30.6,11.0)(24.0,11.0)};
\addplot [dend] coordinates {(0,14.5)(19.8,14.5)(19.8,15.5)(0,15.5)};
\addplot [dend] coordinates {(0,13.5)(22.1,13.5)(22.1,15.0)(19.8,15.0)};
\addplot [dend] coordinates {(0,12.5)(37.8,12.5)(37.8,14.25)(22.1,14.25)};
\addplot [dend] coordinates {(30.6,10.25)(50.3,10.25)(50.3,13.375)(37.8,13.375)};
\addplot [dend] coordinates {(0,17.5)(33.9,17.5)(33.9,18.5)(0,18.5)};
\addplot [dend] coordinates {(0,16.5)(58.2,16.5)(58.2,18.0)(33.9,18.0)};
\addplot [dend] coordinates {(50.3,11.8125)(87.7,11.8125)(87.7,17.25)(58.2,17.25)};
\addplot [dend] coordinates {(80.5,2.5)(92.9,2.5)(92.9,14.53)(87.7,14.53)};
\end{axis}

% ================= panel c =================
\begin{axis}[gES, at={(38.7pt,-270.85pt)}, width=186.525pt, height=61pt, ymin=-0.392, ymax=0.084,
  ytick={-0.3,-0.2,-0.1,0}, yticklabels={-0.3,-0.2,-0.1,0.0}]
\addplot [esline] table {\esc};
\end{axis}
\begin{axis}[gHit, at={(38.7pt,-331.85pt)}, width=186.525pt, height=16.75pt]
\addplot [hitline] table {\hitc};
\end{axis}
\begin{axis}[gHit, at={(38.7pt,-348.6pt)}, width=186.525pt, height=7.075pt]
\addplot [fill=cbB, draw=none] coordinates {(0,1)(742,1)} \closedcycle;
\addplot [fill=cbC, draw=none] coordinates {(742,1)(1960,1)} \closedcycle;
\addplot [fill=cbD, draw=none] coordinates {(1960,1)(3129,1)} \closedcycle;
\addplot [fill=cbE, draw=none] coordinates {(3129,1)(4194,1)} \closedcycle;
\addplot [fill=cbF, draw=none] coordinates {(4194,1)(5694,1)} \closedcycle;
\addplot [fill=cbG, draw=none] coordinates {(5694,1)(7500,1)} \closedcycle;
\addplot [fill=cbH, draw=none] coordinates {(7500,1)(10178,1)} \closedcycle;
\addplot [fill=cbI, draw=none] coordinates {(10178,1)(12444,1)} \closedcycle;
\addplot [fill=cbJ, draw=none] coordinates {(12444,1)(12560,1)} \closedcycle;
\addplot [hitline, opacity=0.25] table {\hitc};
\end{axis}
\begin{axis}[gRank, at={(38.7pt,-355.675pt)}, width=186.525pt, height=36.475pt, ymin=-1.27, ymax=1.48]
\addplot [rankfill] table {\rankpos} \closedcycle;
\addplot [rankfill] table {\rankneg} \closedcycle;
\end{axis}

% ================= panel d =================
\begin{axis}[gES, at={(290.025pt,-273.125pt)}, width=186.65pt, height=61.15pt, ymin=-0.025, ymax=0.569,
  ytick={0,0.2,0.4}, yticklabels={0.0,0.2,0.4}]
\addplot [esline] table {\esd};
\end{axis}
\begin{axis}[gHit, at={(290.025pt,-334.275pt)}, width=186.65pt, height=16.7pt]
\addplot [hitline] table {\hitd};
\end{axis}
\begin{axis}[gHit, at={(290.025pt,-350.975pt)}, width=186.65pt, height=7.025pt]
\addplot [fill=cbA, draw=none] coordinates {(0,1)(685,1)} \closedcycle;
\addplot [fill=cbB, draw=none] coordinates {(685,1)(4323,1)} \closedcycle;
\addplot [fill=cbC, draw=none] coordinates {(4323,1)(5815,1)} \closedcycle;
\addplot [fill=cbD, draw=none] coordinates {(5815,1)(7387,1)} \closedcycle;
\addplot [fill=cbE, draw=none] coordinates {(7387,1)(8718,1)} \closedcycle;
\addplot [fill=cbF, draw=none] coordinates {(8718,1)(10226,1)} \closedcycle;
\addplot [fill=cbG, draw=none] coordinates {(10226,1)(10952,1)} \closedcycle;
\addplot [fill=cbH, draw=none] coordinates {(10952,1)(11815,1)} \closedcycle;
\addplot [fill=cbI, draw=none] coordinates {(11815,1)(12560,1)} \closedcycle;
\addplot [hitline, opacity=0.25] table {\hitd};
\end{axis}
\begin{axis}[gRank, at={(290.025pt,-358pt)}, width=186.65pt, height=36.375pt, ymin=-1.257, ymax=1.468]
\addplot [rankfill] table {\rankpos} \closedcycle;
\addplot [rankfill] table {\rankneg} \closedcycle;
\end{axis}

% ================= panel e =================
\begin{axis}[gES, at={(38.025pt,-431.05pt)}, width=186.275pt, height=61.1pt, ymin=-0.4215, ymax=0.056,
  ytick={-0.4,-0.3,-0.2,-0.1,0}, yticklabels={-0.4,-0.3,-0.2,-0.1,0.0}]
\addplot [esline] table {\ese};
\end{axis}
\begin{axis}[gHit, at={(38.025pt,-492.15pt)}, width=186.275pt, height=16.675pt]
\addplot [hitline] table {\hite};
\end{axis}
\begin{axis}[gHit, at={(38.025pt,-508.825pt)}, width=186.275pt, height=7.05pt]
\addplot [fill=cbB, draw=none] coordinates {(0,1)(871,1)} \closedcycle;
\addplot [fill=cbC, draw=none] coordinates {(871,1)(1879,1)} \closedcycle;
\addplot [fill=cbD, draw=none] coordinates {(1879,1)(2669,1)} \closedcycle;
\addplot [fill=cbE, draw=none] coordinates {(2669,1)(3678,1)} \closedcycle;
\addplot [fill=cbF, draw=none] coordinates {(3678,1)(6073,1)} \closedcycle;
\addplot [fill=cbG, draw=none] coordinates {(6073,1)(7968,1)} \closedcycle;
\addplot [fill=cbH, draw=none] coordinates {(7968,1)(9984,1)} \closedcycle;
\addplot [fill=cbI, draw=none] coordinates {(9984,1)(12420,1)} \closedcycle;
\addplot [fill=cbJ, draw=none] coordinates {(12420,1)(12560,1)} \closedcycle;
\addplot [hitline, opacity=0.25] table {\hite};
\end{axis}
\begin{axis}[gRank, at={(38.025pt,-515.875pt)}, width=186.275pt, height=36.475pt, ymin=-1.264, ymax=1.468]
\addplot [rankfill] table {\rankpos} \closedcycle;
\addplot [rankfill] table {\rankneg} \closedcycle;
\end{axis}

% ================= panel f =================
\begin{axis}[gES, at={(293.4pt,-431.55pt)}, width=187.025pt, height=61.275pt, ymin=-0.087, ymax=0.576,
  ytick={0,0.2,0.4}, yticklabels={0.0,0.2,0.4}]
\addplot [esline] table {\esf};
\end{axis}
\begin{axis}[gHit, at={(293.4pt,-492.825pt)}, width=187.025pt, height=16.375pt]
\addplot [hitline] table {\hitf};
\end{axis}
\begin{axis}[gHit, at={(293.4pt,-509.2pt)}, width=187.025pt, height=7.175pt]
\addplot [fill=cbA, draw=none] coordinates {(0,1)(2460,1)} \closedcycle;
\addplot [fill=cbB, draw=none] coordinates {(2460,1)(5363,1)} \closedcycle;
\addplot [fill=cbC, draw=none] coordinates {(5363,1)(6250,1)} \closedcycle;
\addplot [fill=cbD, draw=none] coordinates {(6250,1)(6936,1)} \closedcycle;
\addplot [fill=cbE, draw=none] coordinates {(6936,1)(8670,1)} \closedcycle;
\addplot [fill=cbG, draw=none] coordinates {(8670,1)(10146,1)} \closedcycle;
\addplot [fill=cbH, draw=none] coordinates {(10146,1)(11307,1)} \closedcycle;
\addplot [fill=cbI, draw=none] coordinates {(11307,1)(11759,1)} \closedcycle;
\addplot [fill=cbJ, draw=none] coordinates {(11759,1)(12560,1)} \closedcycle;
\addplot [hitline, opacity=0.25] table {\hitf};
\end{axis}
\begin{axis}[gRank, at={(293.4pt,-516.375pt)}, width=187.025pt, height=36.55pt, ymin=-1.257, ymax=1.486]
\addplot [rankfill] table {\rankpos} \closedcycle;
\addplot [rankfill] table {\rankneg} \closedcycle;
\end{axis}

% ================= text =================
\node[anchor=base, inner sep=0pt, font=\fBig, text=textcol] at (83.25pt,-9.5pt) {control};
\node[anchor=base, inner sep=0pt, font=\fBig, text=textcol] at (159.5pt,-9.5pt) {BDL};
\node[anchor=base, inner sep=0pt, font=\fBig, text=textcol] at (345.25pt,-9.5pt) {control};
\node[anchor=base, inner sep=0pt, font=\fBig, text=textcol] at (414pt,-9.5pt) {BDL};
\node[anchor=base west, inner sep=0pt, font=\fGroup, text=textcol] at (200.4pt,-18.6pt) {Group};
\node[anchor=base west, inner sep=0pt, font=\fGroup, text=textcol] at (453.2pt,-17.5pt) {Group};
\draw[red, dashed, line width=0.45pt] (200.4pt,-191.5pt) rectangle (218.3pt,-202.5pt);
\draw[red, dashed, line width=0.45pt] (452.3pt,-118.9pt) rectangle (469.8pt,-129.6pt);

\node[anchor=base west, inner sep=0pt, font=\fLetter] at (0pt,-19.5pt) {a};
\node[anchor=base west, inner sep=0pt, font=\fLetter] at (251.25pt,-19.5pt) {b};
\node[anchor=base west, inner sep=0pt, font=\fLetter] at (0pt,-265.5pt) {c};
\node[anchor=base west, inner sep=0pt, font=\fLetter] at (251.25pt,-266.25pt) {d};
\node[anchor=base west, inner sep=0pt, font=\fLetter] at (0pt,-420.4pt) {e};
\node[anchor=base west, inner sep=0pt, font=\fLetter] at (251.25pt,-420.15pt) {f};

\node[anchor=base west, inner sep=0pt, font=\fTitle] at (38.875pt,-268.1pt) {Dopaminergic synapse};
\node[anchor=base, inner sep=0pt, font=\fP] at (185.5pt,-267.4pt) {P < 0.05};
\node[rotate=90, inner sep=0pt, font=\fLab] at (28.6pt,-301.5pt) {Running Enrichment Score};
\node[rotate=90, inner sep=0pt, font=\fLab] at (28.6pt,-373.9pt) {Ranked List Metric};
\node[anchor=base, inner sep=0pt, font=\fLab] at (132pt,-401.75pt) {Rank in Ordered Dataset};

\node[anchor=base west, inner sep=0pt, font=\fTitle] at (290.35pt,-270.4pt) {Glutathione metabolism};
\node[anchor=base, inner sep=0pt, font=\fP] at (435pt,-270.6pt) {P < 0.05};
\node[rotate=90, inner sep=0pt, font=\fLab] at (279.8pt,-303.7pt) {Running Enrichment Score};
\node[rotate=90, inner sep=0pt, font=\fLab] at (279.8pt,-376.2pt) {Ranked List Metric};
\node[anchor=base, inner sep=0pt, font=\fLab] at (383.55pt,-404pt) {Rank in Ordered Dataset};

\node[anchor=base west, inner sep=0pt, font=\fTitle] at (37.85pt,-428.4pt) {Spinocerebellar ataxia};
\node[anchor=base, inner sep=0pt, font=\fP] at (183.75pt,-427.6pt) {P < 0.05};
\node[rotate=90, inner sep=0pt, font=\fLab] at (27.4pt,-461.6pt) {Running Enrichment Score};
\node[rotate=90, inner sep=0pt, font=\fLab] at (27.4pt,-534.1pt) {Ranked List Metric};
\node[anchor=base, inner sep=0pt, font=\fLab] at (131.25pt,-562pt) {Rank in Ordered Dataset};

\node[anchor=base west, inner sep=0pt, font=\fTitle] at (293.8pt,-428.8pt) {Tyrosine metabolism};
\node[anchor=base, inner sep=0pt, font=\fP] at (436.5pt,-428.8pt) {P < 0.05};
\node[rotate=90, inner sep=0pt, font=\fLab] at (283.1pt,-462.2pt) {Running Enrichment Score};
\node[rotate=90, inner sep=0pt, font=\fLab] at (283.1pt,-534.65pt) {Ranked List Metric};
\node[anchor=base, inner sep=0pt, font=\fLab] at (387.3pt,-562pt) {Rank in Ordered Dataset};
\end{tikzpicture}
\end{document}
